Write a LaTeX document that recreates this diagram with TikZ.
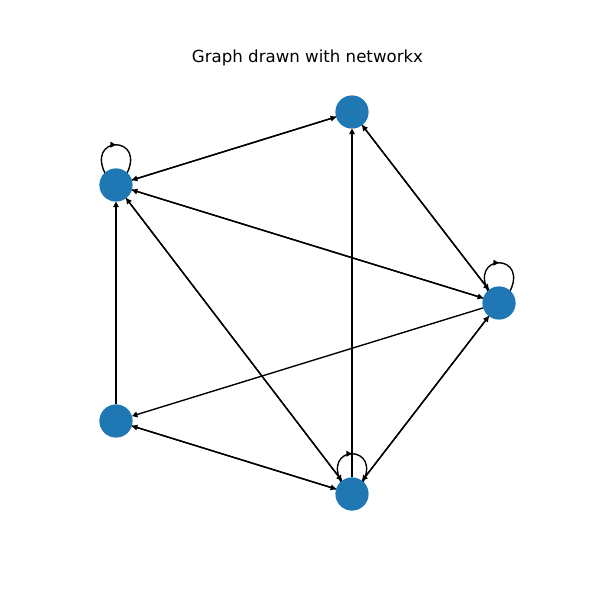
\documentclass[tikz,border=0pt]{standalone}
\usepackage{fontspec}
\setmainfont{DejaVu Sans}
\usetikzlibrary{arrows.meta,decorations.markings,backgrounds}
\definecolor{nxblue}{HTML}{1F77B4}
\tikzset{
    vertex/.style={
        circle,
        fill=nxblue, % node colour
        draw=none,
        minimum size=24,
        inner sep=0,
        outer sep=0
    },
    edge/.style={
        line width=1pt,
        -{Triangle[length=4pt,width=4pt]}
    },
    selfloop/.style={
        line width=1pt,
        decoration={markings,
            mark=at position 0.5 with {\arrow{Triangle[length=4pt,width=4pt]}}},
        postaction=decorate
    }
}
\begin{document}
\begin{tikzpicture}[x=0.01in,y=-0.01in]
    \useasboundingbox (0,0) rectangle (600,600);
    % title
    \node[font=\fontsize{12}{14}\selectfont] (title) at (307.5,58) {Graph drawn with networkx};
    % vertices
    \node[vertex] (a) at (352,112) {};
    \node[vertex] (b) at (116,185) {};
    \node[vertex] (c) at (499,303) {};
    \node[vertex] (d) at (116,421) {};
    \node[vertex] (e) at (352,494) {};
    % edges, behind the vertices
    \begin{pgfonlayer}{background}
        \foreach \s/\t in {a/b, b/a, d/b, e/b, b/e, c/b, b/c, c/a, a/c,
                           c/d, d/e, e/d, e/a, e/c, c/e}
            \draw[edge] (\s) -- (\t);
        % self loops
        \foreach \v in {b, c, e}
            \draw[selfloop] ([shift={(-9,-8)}]\v.center)
                .. controls ([shift={(-34,-51)}]\v.center)
                and ([shift={(34,-51)}]\v.center) .. ([shift={(9,-8)}]\v.center);
    \end{pgfonlayer}
\end{tikzpicture}
\end{document}
